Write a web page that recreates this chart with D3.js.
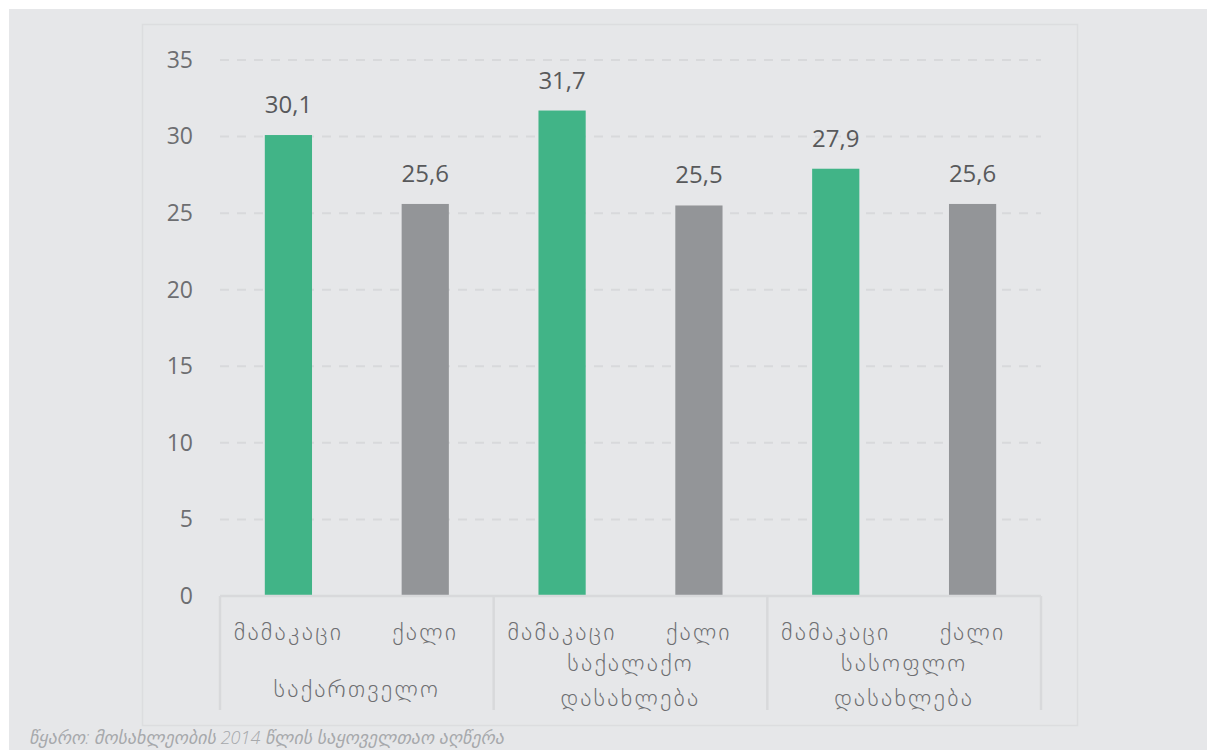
<!DOCTYPE html>
<html>
<head>
<meta charset="utf-8">
<script src="https://cdn.jsdelivr.net/npm/d3@7"></script>
<style>
  html, body { margin: 0; padding: 0; background: #fff; }
  svg { display: block; }
  text { font-family: "Open Sans", "DejaVu Sans", sans-serif; }
</style>
</head>
<body>
<svg id="mychart"></svg>
<script>
const width = 1207
const height = 750
const margin = ({top: 60, right: 166, bottom: 154, left: 220})

// data
const categories = ["საქართველო", "საქალაქო დასახლება", "სასოფლო დასახლება"]
const categoryLines = [["საქართველო"], ["საქალაქო", "დასახლება"], ["სასოფლო", "დასახლება"]]
const sexes = ["მამაკაცი", "ქალი"]
const men = [30.1, 31.7, 27.9]
const women = [25.6, 25.5, 25.6]
const yTicks = [0, 5, 10, 15, 20, 25, 30, 35]
const source = "წყარო: მოსახლეობის 2014 წლის საყოველთაო აღწერა"

const colors = {"მამაკაცი": "#41b487", "ქალი": "#939598"}

const data = categories.flatMap((c, i) => [
  {cat: c, sex: sexes[0], value: men[i]},
  {cat: c, sex: sexes[1], value: women[i]}
])

const y = d3.scaleLinear()
  .domain([0, 35])
  .range([height - margin.bottom, margin.top])

const x0 = d3.scaleBand()
  .domain(categories)
  .range([margin.left, width - margin.right])

const x1 = d3.scaleBand()
  .domain(sexes)
  .range([0, x0.bandwidth()])
  .paddingInner(0.655)
  .paddingOuter(0.3275)

const fmt = v => String(v).replace(".", ",")

function chart() {
  const svg = d3.select("#mychart").attr("width", width).attr("height", height)

  // background panels
  svg.append("rect").attr("x", 9).attr("y", 9).attr("width", width - 9).attr("height", height - 9)
    .attr("fill", "#e6e7e9")
  svg.append("rect").attr("x", 142.5).attr("y", 24.5).attr("width", 935).attr("height", 701)
    .attr("fill", "none").attr("stroke", "#dcdddf").attr("stroke-width", 1.5)

  // grid
  svg.append("g")
    .selectAll("line")
    .data(yTicks.filter(d => d > 0))
    .join("line")
    .attr("x1", margin.left)
    .attr("x2", width - margin.right)
    .attr("y1", d => y(d))
    .attr("y2", d => y(d))
    .attr("stroke", "#d8d9db")
    .attr("stroke-width", 2)
    .attr("stroke-dasharray", "9,8")

  // y axis labels
  svg.append("g")
    .attr("transform", `translate(${margin.left - 27},0)`)
    .call(d3.axisLeft(y).tickValues(yTicks).tickSize(0).tickPadding(0))
    .call(g => g.select(".domain").remove())
    .call(g => g.selectAll("text")
      .attr("font-size", 23)
      .attr("fill", "#6d6e71")
      .style("font-family", "'Open Sans', sans-serif"))

  // bars
  svg.append("g")
    .selectAll("rect")
    .data(data)
    .join("rect")
    .attr("x", d => x0(d.cat) + x1(d.sex))
    .attr("y", d => y(d.value))
    .attr("width", x1.bandwidth())
    .attr("height", d => y(0) - y(d.value))
    .attr("fill", d => colors[d.sex])

  // value labels
  svg.append("g")
    .selectAll("text")
    .data(data)
    .join("text")
    .attr("x", d => x0(d.cat) + x1(d.sex) + x1.bandwidth() / 2)
    .attr("y", d => y(d.value) - 22)
    .attr("text-anchor", "middle")
    .attr("font-size", 24)
    .attr("fill", "#58595b")
    .text(d => fmt(d.value))

  // x axis line and separators
  const axis = svg.append("g").attr("stroke", "#d8d9db").attr("stroke-width", 2.5)
  axis.append("line")
    .attr("x1", margin.left).attr("x2", width - margin.right)
    .attr("y1", y(0)).attr("y2", y(0))
  axis.selectAll(".sep")
    .data([...categories.map(c => x0(c)), x0.range()[1]])
    .join("line")
    .attr("class", "sep")
    .attr("x1", d => d).attr("x2", d => d)
    .attr("y1", y(0)).attr("y2", y(0) + 114)

  // sex labels
  svg.append("g")
    .selectAll("text")
    .data(data)
    .join("text")
    .attr("x", d => x0(d.cat) + x1(d.sex) + x1.bandwidth() / 2)
    .attr("y", y(0) + 44)
    .attr("text-anchor", "middle")
    .attr("font-size", 24)
    .attr("font-weight", 300)
    .attr("letter-spacing", 2.2)
    .attr("fill", "#6d6e71")
    .text(d => d.sex)

  // category labels
  svg.append("g")
    .selectAll("text")
    .data(categories)
    .join("text")
    .attr("x", d => x0(d) + x0.bandwidth() / 2)
    .attr("text-anchor", "middle")
    .attr("font-size", 24)
    .attr("font-weight", 300)
    .attr("letter-spacing", 2.2)
    .attr("fill", "#6d6e71")
    .each(function(d, i) {
      const lines = categoryLines[i]
      const t = d3.select(this)
      const startY = lines.length === 1 ? y(0) + 101 : y(0) + 75
      lines.forEach((l, j) => {
        t.append("tspan").attr("x", x0(d) + x0.bandwidth() / 2).attr("y", startY + j * 35).text(l)
      })
    })

  // source note
  svg.append("text")
    .attr("x", 29)
    .attr("y", 744)
    .attr("font-size", 18)
    .attr("font-style", "italic")
    .attr("font-weight", 300)
    .attr("fill", "#a7a9ac")
    .text(source)

  return svg.node()
}

chart()
</script>
</body>
</html>
